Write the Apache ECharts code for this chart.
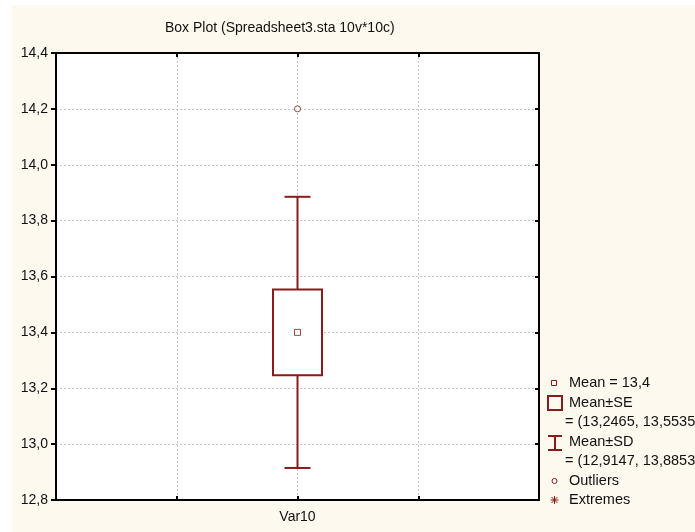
<!DOCTYPE html>
<html>
<head>
<meta charset="utf-8">
<script src="https://cdn.jsdelivr.net/npm/echarts@6/dist/echarts.min.js"></script>
<style>
html,body{margin:0;padding:0;background:#fff;}
#chart{width:695px;height:532px;}
</style>
</head>
<body>
<div id="chart"></div>
<script>
const titleText = 'Box Plot (Spreadsheet3.sta 10v*10c)';
const categories = ['Var10'];
const meanValues = [13.4];
const seLow = [13.2465];
const seHigh = [13.5535];
const sdLow = [12.9147];
const sdHigh = [13.8853];
const outlierValues = [14.2];
const yMin = 12.8, yMax = 14.4, yStep = 0.2;

const RED = '#8b1a1a';
const fmt = (v, d) => v.toFixed(d).replace('.', ',');
const FONT = 'Liberation Sans, Arial, sans-serif';

// each category sits at the middle of a 4-unit wide x scale (grid lines at quarters)
const xSpan = 4 * categories.length;
const catPos = i => 4 * i + 2;

const boxData = categories.map((c, i) => [catPos(i), sdLow[i], seLow[i], meanValues[i], seHigh[i], sdHigh[i]]);
const meanData = categories.map((c, i) => [catPos(i), meanValues[i]]);
const outlierData = outlierValues.map(v => [catPos(0), v]);

const chart = echarts.init(document.getElementById('chart'), null, {renderer: 'canvas'});

const legendX = 569;
const txt = (x, y, s) => ({type: 'text', left: x, top: y - 8, z: 50, style: {text: s, font: '14.5px ' + FONT, fill: '#111'}});

const axisLineStyle = {show: true, onZero: false, lineStyle: {color: '#000', width: 2}};
const gridLineStyle = {show: true, showMinLine: false, showMaxLine: false, lineStyle: {color: '#c4c4c4', width: 1, type: [2, 2]}};

const xAxisCommon = {
  type: 'value', min: 0, max: xSpan, interval: 1,
  axisLine: axisLineStyle,
  axisTick: {show: true, inside: true, length: 4, lineStyle: {color: '#000', width: 2}}
};

const option = {
  backgroundColor: '#ffffff',
  animation: false,
  title: {
    text: titleText, left: 165, top: 21, padding: 0,
    textStyle: {fontSize: 14, fontWeight: 'normal', color: '#111', fontFamily: FONT}
  },
  grid: {left: 56, top: 53, right: 156, bottom: 32, show: true, backgroundColor: '#ffffff', borderWidth: 0, containLabel: false},
  xAxis: [
    Object.assign({}, xAxisCommon, {
      position: 'bottom',
      axisLabel: {
        fontSize: 14, color: '#111', fontFamily: FONT, margin: 10,
        showMinLabel: false, showMaxLabel: false,
        formatter: v => { const i = categories.findIndex((c, k) => catPos(k) === v); return i >= 0 ? categories[i] : ''; }
      },
      splitLine: gridLineStyle
    }),
    Object.assign({}, xAxisCommon, {
      position: 'top',
      axisLabel: {show: false},
      splitLine: {show: false}
    })
  ],
  yAxis: [
    {
      type: 'value', position: 'left', min: yMin, max: yMax, interval: yStep,
      axisLine: axisLineStyle,
      axisTick: {show: true, inside: false, length: 5, lineStyle: {color: '#000', width: 2}},
      axisLabel: {fontSize: 14, color: '#111', fontFamily: FONT, margin: 8, formatter: v => fmt(v, 1)},
      splitLine: gridLineStyle
    },
    {
      type: 'value', position: 'right', min: yMin, max: yMax, interval: yStep,
      axisLine: axisLineStyle,
      axisTick: {show: true, inside: true, length: 4, lineStyle: {color: '#000', width: 2}},
      axisLabel: {show: false},
      splitLine: {show: false}
    }
  ],
  series: [
    {
      type: 'custom', xAxisIndex: 0, yAxisIndex: 0, z: 5,
      data: boxData,
      renderItem: function (params, api) {
        const x = api.value(0);
        const pLo = api.coord([x, api.value(1)]);
        const pSeLo = api.coord([x, api.value(2)]);
        const pSeHi = api.coord([x, api.value(4)]);
        const pHi = api.coord([x, api.value(5)]);
        const cx = pLo[0];
        const bw = 49, cw = 26;
        const ls = {stroke: RED, lineWidth: 2, fill: null};
        return {
          type: 'group',
          children: [
            {type: 'line', shape: {x1: cx, y1: pHi[1], x2: cx, y2: pSeHi[1]}, style: ls},
            {type: 'line', shape: {x1: cx, y1: pSeLo[1], x2: cx, y2: pLo[1]}, style: ls},
            {type: 'line', shape: {x1: cx - cw / 2, y1: pHi[1], x2: cx + cw / 2, y2: pHi[1]}, style: ls},
            {type: 'line', shape: {x1: cx - cw / 2, y1: pLo[1], x2: cx + cw / 2, y2: pLo[1]}, style: ls},
            {type: 'rect', shape: {x: cx - bw / 2, y: pSeHi[1], width: bw, height: pSeLo[1] - pSeHi[1]}, style: {stroke: RED, lineWidth: 2, fill: '#fff'}}
          ]
        };
      }
    },
    {
      type: 'scatter', xAxisIndex: 0, yAxisIndex: 0, z: 6,
      data: meanData, symbol: 'rect', symbolSize: 6,
      itemStyle: {color: '#fff', borderColor: RED, borderWidth: 1}
    },
    {
      type: 'scatter', xAxisIndex: 0, yAxisIndex: 0, z: 6,
      data: outlierData, symbol: 'circle', symbolSize: 6,
      itemStyle: {color: '#fff', borderColor: RED, borderWidth: 1}
    }
  ],
  graphic: {
    elements: [
      {type: 'rect', z: -100, silent: true, shape: {x: 12, y: 5, width: 700, height: 540}, style: {fill: '#fef9ee'}},
      {type: 'rect', z: 50, shape: {x: 551.5, y: 380.5, width: 5, height: 5}, style: {fill: '#fff', stroke: RED, lineWidth: 1}},
      txt(legendX, 383, 'Mean = ' + fmt(meanValues[0], 1)),
      {type: 'rect', z: 50, shape: {x: 548, y: 396, width: 14, height: 14}, style: {fill: 'none', stroke: RED, lineWidth: 2}},
      txt(legendX, 403, 'Mean±SE'),
      txt(565, 422, '= (' + fmt(seLow[0], 4) + ', ' + fmt(seHigh[0], 4) + ')'),
      {type: 'line', z: 50, shape: {x1: 548, y1: 436, x2: 562, y2: 436}, style: {stroke: RED, lineWidth: 2}},
      {type: 'line', z: 50, shape: {x1: 555, y1: 436, x2: 555, y2: 450}, style: {stroke: RED, lineWidth: 2}},
      {type: 'line', z: 50, shape: {x1: 548, y1: 450, x2: 562, y2: 450}, style: {stroke: RED, lineWidth: 2}},
      txt(legendX, 442, 'Mean±SD'),
      txt(565, 461, '= (' + fmt(sdLow[0], 4) + ', ' + fmt(sdHigh[0], 4) + ')'),
      {type: 'circle', z: 50, shape: {cx: 554.5, cy: 481, r: 2.5}, style: {fill: '#fff', stroke: RED, lineWidth: 1}},
      txt(legendX, 481, 'Outliers'),
      {type: 'group', z: 50, children: [
        {type: 'line', z: 50, shape: {x1: 550.5, y1: 500, x2: 558.5, y2: 500}, style: {stroke: RED, lineWidth: 1}},
        {type: 'line', z: 50, shape: {x1: 554.5, y1: 496, x2: 554.5, y2: 504}, style: {stroke: RED, lineWidth: 1}},
        {type: 'line', z: 50, shape: {x1: 551.5, y1: 497, x2: 557.5, y2: 503}, style: {stroke: RED, lineWidth: 1}},
        {type: 'line', z: 50, shape: {x1: 557.5, y1: 497, x2: 551.5, y2: 503}, style: {stroke: RED, lineWidth: 1}}
      ]},
      txt(legendX, 500, 'Extremes')
    ]
  }
};
chart.setOption(option);
</script>
</body>
</html>
